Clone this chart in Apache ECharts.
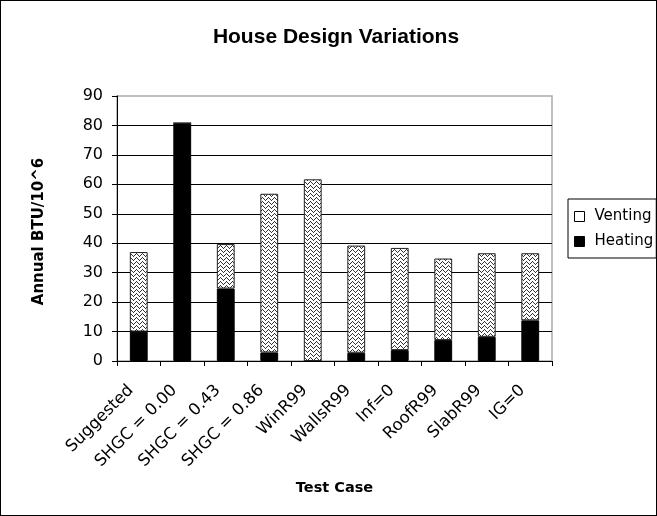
<!DOCTYPE html>
<html><head><meta charset="utf-8">
<script src="https://cdn.jsdelivr.net/npm/echarts@6/dist/echarts.min.js"></script>
<style>html,body{margin:0;padding:0;background:#fff}#c{width:657px;height:516px;box-sizing:border-box;border:1px solid #000}</style>
</head><body><div id="c"></div>
<script>
const categories = ['Suggested','SHGC = 0.00','SHGC = 0.43','SHGC = 0.86','WinR99','WallsR99','Inf=0','RoofR99','SlabR99','IG=0'];
const heating = [10, 80.8, 24.6, 2.9, 0, 2.8, 3.7, 7.1, 8.2, 13.8];
const venting = [27, 0, 15.1, 53.9, 61.7, 36.4, 34.7, 27.7, 28.4, 22.8];
const yTicks = [0,10,20,30,40,50,60,70,80,90];

// zigzag pattern tile
const tile = document.createElement('canvas');
tile.width = 6; tile.height = 4;
const g = tile.getContext('2d');
g.fillStyle = '#fff'; g.fillRect(0,0,6,4);
g.fillStyle = '#333';
[[0,3],[1,2],[2,1],[3,0],[4,1],[5,2]].forEach(p => g.fillRect(p[0], p[1], 1, 1));

const F = 'DejaVu Sans, Liberation Sans, Arial';
const chart = echarts.init(document.getElementById('c'));
chart.setOption({
  animation: false,
  title: { text: 'House Design Variations', left: 330, top: 21, textAlign: 'center',
    textStyle: { fontFamily: 'Liberation Sans, Arial', fontSize: 21, fontWeight: 'bold', color: '#000' } },
  legend: {
    orient: 'vertical', left: 567, top: 198,
    padding: [10, 3, 9, 6], itemGap: 10,
    borderColor: '#000', borderWidth: 1, itemWidth: 10, itemHeight: 10, icon: 'rect',
    textStyle: { fontFamily: F, fontSize: 15, color: '#000', padding: [0,0,0,5] },
    data: [
      { name: 'Venting', itemStyle: { color: '#fff', borderColor: '#000', borderWidth: 1 } },
      { name: 'Heating', itemStyle: { color: '#000', borderColor: '#000', borderWidth: 1 } }
    ]
  },
  grid: { left: 116, right: 104, top: 95, bottom: 154, show: true, borderColor: '#aaa', borderWidth: 1.5 },
  xAxis: {
    type: 'category', data: categories,
    name: 'Test Case', nameLocation: 'middle', nameGap: 120,
    nameTextStyle: { fontFamily: F, fontSize: 14.5, fontWeight: 'bold', color: '#000' },
    axisLine: { lineStyle: { color: '#000', width: 1 } },
    axisTick: { show: true, alignWithLabel: false, length: 5, lineStyle: { color: '#000' } },
    axisLabel: { rotate: 45, interval: 0, margin: 19, padding: [0, 11, 0, 0], fontFamily: F, fontSize: 16.5, color: '#000' }
  },
  yAxis: {
    type: 'value', min: 0, max: 90, interval: 10,
    name: 'Annual BTU/10^6', nameLocation: 'middle', nameGap: 70, nameRotate: 90,
    nameTextStyle: { fontFamily: F, fontSize: 15, fontWeight: 'bold', color: '#000', padding: [0, 6, 0, 0] },
    axisLine: { show: true, lineStyle: { color: '#000' } },
    axisTick: { show: true, length: 5, lineStyle: { color: '#000' } },
    axisLabel: { fontFamily: F, fontSize: 16, color: '#000', margin: 14,
      formatter: v => yTicks.includes(v) ? String(v) : '' },
    splitLine: { show: true, showMaxLine: false, lineStyle: { color: '#000', width: 1 } }
  },
  series: [
    { name: 'Heating', type: 'bar', stack: 's', data: heating, barWidth: '41%',
      itemStyle: { color: '#000', borderColor: '#000', borderWidth: 1 } },
    { name: 'Venting', type: 'bar', stack: 's', data: venting, barWidth: '41%',
      itemStyle: { color: { image: tile, repeat: 'repeat' }, borderColor: '#222', borderWidth: 1 } }
  ]
});
</script></body></html>
